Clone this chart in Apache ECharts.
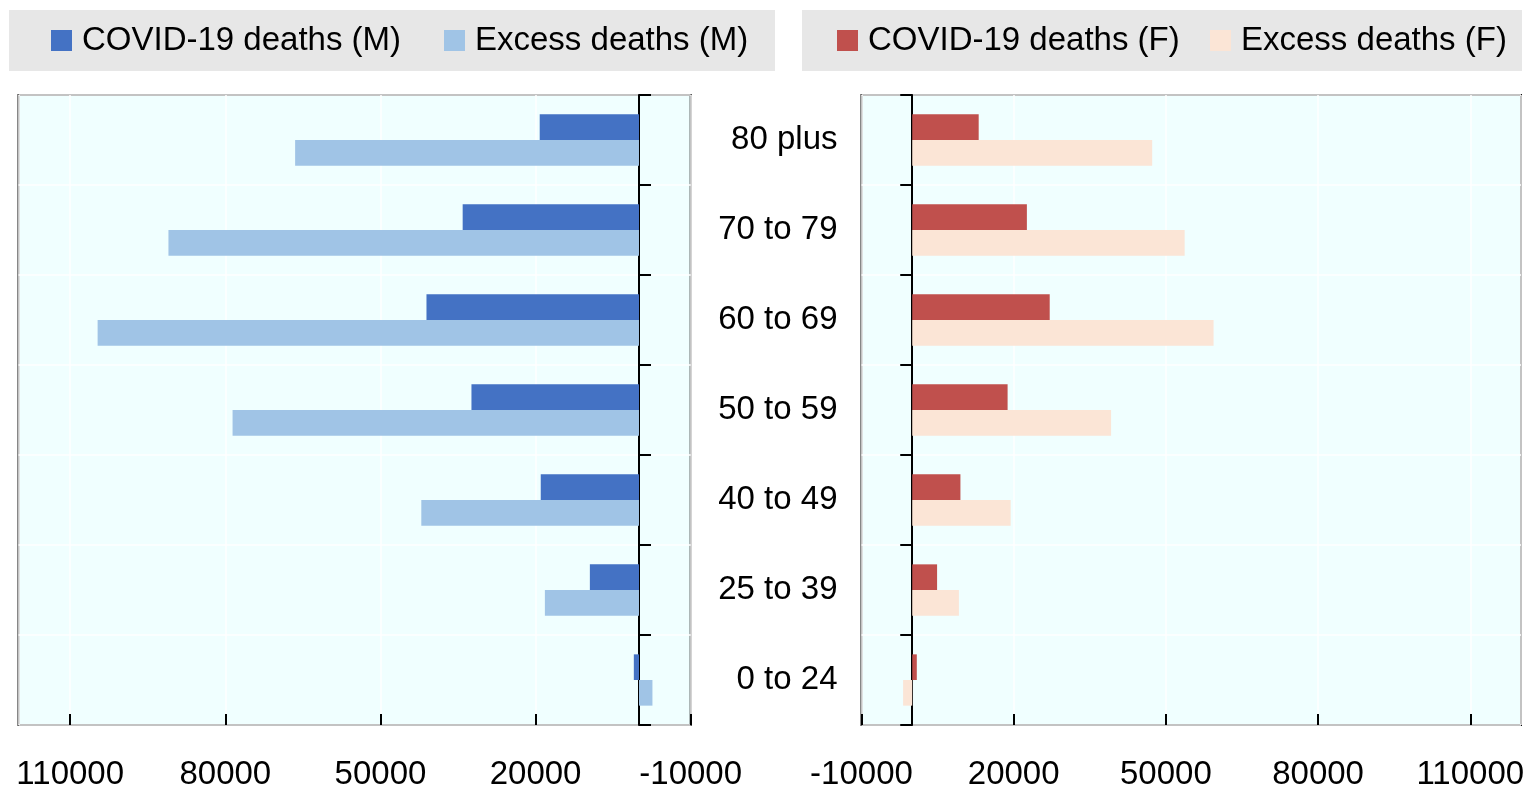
<!DOCTYPE html>
<html>
<head>
<meta charset="utf-8">
<script src="https://cdn.jsdelivr.net/npm/echarts@6/dist/echarts.min.js"></script>
<style>
html,body{margin:0;padding:0;background:#fff;}
#chart{width:1529px;height:789px;}
</style>
</head>
<body>
<div id="chart"></div>
<script>
// ---- data ----
const categories = ['80 plus', '70 to 79', '60 to 69', '50 to 59', '40 to 49', '25 to 39', '0 to 24'];
const covidMale = [19200, 34100, 41100, 32400, 19000, 9500, 1000];
const excessMale = [66500, 91000, 104700, 78600, 42100, 18200, -2600];
const covidFemale = [13100, 22600, 27100, 18800, 9500, 4900, 900];
const excessFemale = [47300, 53700, 59400, 39200, 19400, 9200, -1800];
const seriesNames = ['COVID-19 deaths (M)', 'Excess deaths (M)', 'COVID-19 deaths (F)', 'Excess deaths (F)'];
const axisMin = -10000;
const axisMax = 120000;
const axisStep = 30000;

// ---- styles ----
const FONT = '"Liberation Sans", Arial, sans-serif';
const colors = ['#4472C4', '#A0C4E6', '#C0504D', '#FBE5D6'];
const plotBg = '#F0FFFF';

const chart = echarts.init(document.getElementById('chart'), null, {renderer: 'canvas'});

function valueAxis(gridIndex, inverse) {
  return {
    type: 'value', gridIndex: gridIndex, inverse: inverse,
    min: axisMin, max: axisMax, interval: axisStep,
    axisLine: {show: false},
    axisTick: {show: true, inside: true, length: 11, lineStyle: {color: '#000', width: 2}},
    axisLabel: {
      show: true, showMaxLabel: false, margin: 33,
      fontSize: 33, fontFamily: FONT, color: '#000',
      formatter: v => (v === axisMax ? '' : String(v))
    },
    splitLine: {show: true, lineStyle: {color: '#ffffff', width: 1.5}}
  };
}

function catAxis(gridIndex, position, showLabel) {
  return {
    type: 'category', gridIndex: gridIndex, data: categories, inverse: true,
    position: position,
    axisLine: {show: true, onZero: true, lineStyle: {color: '#000', width: 2}},
    axisTick: {show: true, length: 12, lineStyle: {color: '#000', width: 2}},
    axisLabel: {show: showLabel, margin: 24, fontSize: 33, fontFamily: FONT, color: '#000'},
    splitLine: {show: true, lineStyle: {color: '#ffffff', width: 1.5}}
  };
}

function legendFor(name, left) {
  return {
    data: [name], left: left, top: 22, padding: 0,
    icon: 'rect', itemWidth: 21, itemHeight: 21,
    selectedMode: false,
    textStyle: {fontSize: 33, fontFamily: FONT, color: '#000', lineHeight: 37, padding: [0, 0, 0, 5]}
  };
}

function barSeries(i, data, idx) {
  return {
    name: seriesNames[i], type: 'bar', data: data,
    xAxisIndex: idx, yAxisIndex: idx,
    barGap: '0%', barCategoryGap: '43%',
    itemStyle: {color: colors[i]},
    emphasis: {disabled: true},
    animation: false
  };
}

const option = {
  animation: false,
  color: colors,
  graphic: [
    {type: 'rect', shape: {x: 9, y: 10, width: 766, height: 61}, style: {fill: '#E7E7E7'}, z: -10},
    {type: 'rect', shape: {x: 802, y: 10, width: 720, height: 61}, style: {fill: '#E7E7E7'}, z: -10}
  ],
  legend: [
    legendFor(seriesNames[0], 51),
    legendFor(seriesNames[1], 444),
    legendFor(seriesNames[2], 837),
    legendFor(seriesNames[3], 1210)
  ],
  grid: [
    {left: 18.5, right: 838.3, top: 95, bottom: 64, containLabel: false, outerBoundsMode: 'none',
     show: true, backgroundColor: plotBg, borderColor: '#111', borderWidth: 2},
    {left: 861.5, right: 8, top: 95, bottom: 64, containLabel: false, outerBoundsMode: 'none',
     show: true, backgroundColor: plotBg, borderColor: '#111', borderWidth: 2}
  ],
  xAxis: [valueAxis(0, true), valueAxis(1, false)],
  yAxis: [catAxis(0, 'right', false), catAxis(1, 'left', true)],
  series: [
    barSeries(0, covidMale, 0),
    barSeries(1, excessMale, 0),
    barSeries(2, covidFemale, 1),
    barSeries(3, excessFemale, 1)
  ]
};
chart.setOption(option);
</script>
</body>
</html>
